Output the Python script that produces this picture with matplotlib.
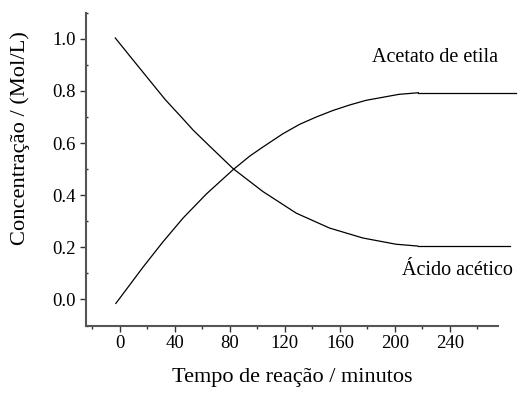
import matplotlib
matplotlib.use('Agg')
import matplotlib.pyplot as plt
from matplotlib.ticker import MultipleLocator

plt.rcParams['font.family'] = 'Liberation Serif'

# values (time in minutes, concentration in mol/L)
t_acetato = [-3, 0, 16.9, 31.4, 46, 62.9, 82.3, 94.4, 104, 118.6, 130.7, 142.8,
             154.9, 167, 179, 203, 217]
acetato = [-0.015, 0.006, 0.125, 0.222, 0.313, 0.405, 0.498, 0.550, 0.585, 0.636,
           0.672, 0.700, 0.725, 0.746, 0.764, 0.787, 0.793]

t_acido = [-3.4, 8.7, 18.4, 32.9, 46, 53.2, 65.3, 82.3, 104, 128.3, 152.5, 176.6,
           200.8, 216.6]
acido = [1.003, 0.924, 0.861, 0.767, 0.692, 0.650, 0.588, 0.502, 0.414, 0.331,
         0.274, 0.236, 0.212, 0.205]

# flat tails after equilibrium
tail_acetato = [217, 288]
tail_acido = [216.6, 284]

fig = plt.figure(figsize=(5.22, 3.98), dpi=100)
ax = fig.add_axes([0.164, 0.182, 0.790, 0.786])

ax.plot(t_acetato, acetato, color='black', lw=0.9, clip_on=False)
ax.plot(t_acido, acido, color='black', lw=0.9, clip_on=False)
ax.plot(tail_acetato, [acetato[-1]] * 2, color='black', lw=0.9, clip_on=False)
ax.plot(tail_acido, [acido[-1]] * 2, color='black', lw=0.9, clip_on=False)

ax.text(183, 0.91, 'Acetato de etila', fontsize=14.5, ha='left', va='baseline')
ax.text(205, 0.093, 'Ácido acético', fontsize=14.5, ha='left', va='baseline')

ax.set_xlim(-25, 275)
ax.set_ylim(-0.1, 1.1)
ax.xaxis.set_minor_locator(MultipleLocator(20))
ax.yaxis.set_minor_locator(MultipleLocator(0.1))
ax.set_xticks(range(0, 241, 40))
ax.set_yticks([0.0, 0.2, 0.4, 0.6, 0.8, 1.0])
ax.set_yticklabels(['0.0', '0.2', '0.4', '0.6', '0.8', '1.0'])

for s in ['top', 'right']:
    ax.spines[s].set_visible(False)
for s in ['left', 'bottom']:
    ax.spines[s].set_linewidth(1.5)
    ax.spines[s].set_color('#555555')

ax.tick_params(which='major', direction='out', length=4.0, width=1.0, color='#333333',
               labelsize=13.5, pad=3)
ax.tick_params(axis='x', which='minor', direction='out', length=2.4, width=1.0, color='#333333')
ax.tick_params(axis='y', which='minor', direction='in', length=1.6, width=1.0, color='#333333')

ax.set_xlabel('Tempo de reação / minutos', fontsize=16, labelpad=11)
ax.set_ylabel('Concentração / (Mol/L)', fontsize=16.2)
ax.yaxis.set_label_coords(-0.135, 0.6)

plt.savefig('out.png', dpi=100)
